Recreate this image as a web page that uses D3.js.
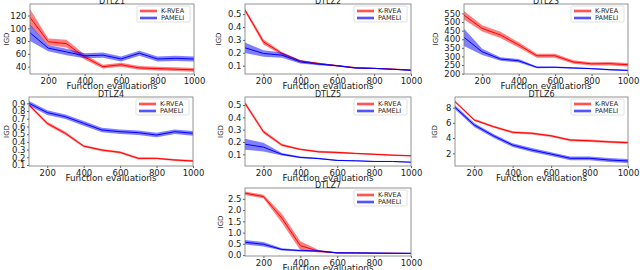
<!DOCTYPE html>
<html>
<head>
<meta charset="utf-8">
<script src="https://cdn.jsdelivr.net/npm/d3@7"></script>
<style>
  body { margin: 0; background: #fff; }
  text { font-family: "DejaVu Sans", sans-serif; fill: #222; }
</style>
</head>
<body>
<div id="chart"></div>
<script>
var problems = ['DTLZ1', 'DTLZ2', 'DTLZ3', 'DTLZ4', 'DTLZ5', 'DTLZ6', 'DTLZ7'];
var evals = [100, 200, 300, 400, 500, 600, 700, 800, 900, 1000];
var xTicks = [200, 400, 600, 800, 1000];

// mean IGD and half-width of the shaded band, one row per problem
var krveaMean = [
  [117, 79, 76, 55, 40, 43, 38, 37, 36, 35],
  [0.531, 0.285, 0.195, 0.136, 0.118, 0.1, 0.085, 0.079, 0.074, 0.066],
  [540, 463, 425, 367, 304, 304, 268, 257, 258, 252],
  [0.878, 0.64, 0.51, 0.345, 0.294, 0.264, 0.186, 0.186, 0.165, 0.152],
  [0.514, 0.283, 0.175, 0.14, 0.12, 0.115, 0.107, 0.1, 0.093, 0.088],
  [8.79, 6.38, 5.5, 4.76, 4.63, 4.3, 3.74, 3.65, 3.5, 3.4],
  [2.75, 2.6, 1.64, 0.42, 0.17, 0.1, 0.09, 0.08, 0.08, 0.07]
];
var krveaSpread = [
  [13, 5, 6, 4, 3, 3, 3, 3, 3, 3],
  [0.015, 0.02, 0.012, 0.008, 0.006, 0.005, 0.005, 0.004, 0.004, 0.004],
  [25, 18, 18, 15, 12, 12, 10, 10, 10, 10],
  [0.02, 0.02, 0.02, 0.015, 0.015, 0.015, 0.015, 0.012, 0.012, 0.012],
  [0.015, 0.015, 0.01, 0.008, 0.008, 0.008, 0.006, 0.006, 0.006, 0.006],
  [0.15, 0.15, 0.15, 0.15, 0.15, 0.15, 0.15, 0.15, 0.15, 0.15],
  [0.08, 0.08, 0.2, 0.2, 0.06, 0.03, 0.03, 0.02, 0.02, 0.02]
];
var pameliMean = [
  [93, 69, 63, 57, 58, 52, 61, 52, 53, 52],
  [0.239, 0.195, 0.182, 0.13, 0.112, 0.1, 0.082, 0.08, 0.072, 0.065],
  [411, 327, 285, 275, 237, 237, 233, 229, 223, 219],
  [0.9, 0.78, 0.726, 0.64, 0.554, 0.532, 0.519, 0.489, 0.532, 0.511],
  [0.182, 0.158, 0.1, 0.075, 0.065, 0.05, 0.047, 0.042, 0.042, 0.036],
  [8.05, 5.72, 4.3, 3.08, 2.43, 1.9, 1.34, 1.34, 1.12, 0.99],
  [0.57, 0.48, 0.25, 0.2, 0.18, 0.1, 0.1, 0.09, 0.08, 0.08]
];
var pameliSpread = [
  [13, 5, 5, 4, 4, 4, 4, 4, 4, 4],
  [0.04, 0.025, 0.02, 0.012, 0.008, 0.006, 0.005, 0.005, 0.004, 0.004],
  [50, 18, 10, 10, 5, 4, 4, 4, 4, 4],
  [0.03, 0.03, 0.03, 0.03, 0.03, 0.03, 0.03, 0.03, 0.03, 0.03],
  [0.045, 0.035, 0.01, 0.008, 0.006, 0.005, 0.004, 0.004, 0.004, 0.004],
  [0.25, 0.25, 0.25, 0.25, 0.25, 0.25, 0.25, 0.25, 0.25, 0.25],
  [0.1, 0.1, 0.05, 0.04, 0.03, 0.03, 0.02, 0.02, 0.02, 0.02]
];
var yDomains = [[28.5, 138], [0.036, 0.578], [198, 605], [0.087, 0.982], [0.005, 0.565], [0.33, 9.4], [-0.04, 2.98]];
var yTicks = [
  [40, 60, 80, 100, 120],
  [0.1, 0.2, 0.3, 0.4, 0.5],
  [200, 250, 300, 350, 400, 450, 500, 550],
  [0.1, 0.2, 0.3, 0.4, 0.5, 0.6, 0.7, 0.8, 0.9],
  [0.1, 0.2, 0.3, 0.4, 0.5],
  [2, 4, 6, 8],
  [0, 0.5, 1, 1.5, 2, 2.5]
];
var yFormats = ['d', '.1f', 'd', '.1f', '.1f', 'd', '.1f'];

// panel boxes [left, right, top, bottom, ylabel x]
var panels = [
  [30, 194, 4, 74, 6],
  [245, 411, 4, 74, 218],
  [464, 628, 4, 74, 435],
  [29, 193, 97, 166, 6],
  [245, 411, 97, 166, 220],
  [455, 628, 97, 166, 434],
  [245, 411, 188, 256, 220]
];

var W = 640, H = 270;
var svg = d3.select('#chart').append('svg')
  .attr('width', W).attr('height', H);

var series = [
  {name: 'K-RVEA', color: '#ff0000', mean: krveaMean, spread: krveaSpread},
  {name: 'PAMELI', color: '#0000ff', mean: pameliMean, spread: pameliSpread}
];

problems.forEach(function(p, k) {
  var b = panels[k];
  var x = d3.scaleLinear().domain([100, 1000]).range([b[0], b[1]]);
  var y = d3.scaleLinear().domain(yDomains[k]).range([b[3], b[2]]);
  var g = svg.append('g');

  g.append('clipPath').attr('id', 'clip' + k)
    .append('rect')
    .attr('x', b[0]).attr('y', b[2])
    .attr('width', b[1] - b[0]).attr('height', b[3] - b[2]);

  var plot = g.append('g').attr('clip-path', 'url(#clip' + k + ')');

  series.forEach(function(s) {
    var pts = evals.map(function(e, i) {
      return {x: e, m: s.mean[k][i], d: s.spread[k][i]};
    });
    plot.append('path')
      .datum(pts)
      .attr('d', d3.area()
        .x(function(d) { return x(d.x); })
        .y0(function(d) { return y(d.m - d.d); })
        .y1(function(d) { return y(d.m + d.d); }))
      .attr('fill', s.color)
      .attr('fill-opacity', 0.5);
    plot.append('path')
      .datum(pts)
      .attr('d', d3.line()
        .x(function(d) { return x(d.x); })
        .y(function(d) { return y(d.m); }))
      .attr('fill', 'none')
      .attr('stroke', s.color)
      .attr('stroke-width', 1);
  });

  // axes
  var xa = g.append('g')
    .attr('transform', 'translate(0,' + b[3] + ')')
    .call(d3.axisBottom(x).tickValues(xTicks).tickSize(2).tickPadding(1.5)
      .tickFormat(d3.format('d')));
  var ya = g.append('g')
    .attr('transform', 'translate(' + b[0] + ',0)')
    .call(d3.axisLeft(y).tickValues(yTicks[k]).tickSize(2).tickPadding(1.5)
      .tickFormat(d3.format(yFormats[k])));
  [xa, ya].forEach(function(a) {
    a.select('.domain').remove();
    a.selectAll('line').attr('stroke', '#333').attr('stroke-width', 0.8);
    a.selectAll('text').style('font-size', '8.5px').style('font-family', '"DejaVu Sans", sans-serif').attr('fill', '#222');
  });

  // frame
  g.append('rect')
    .attr('x', b[0]).attr('y', b[2])
    .attr('width', b[1] - b[0]).attr('height', b[3] - b[2])
    .attr('fill', 'none').attr('stroke', '#777').attr('stroke-width', 0.8);

  // title and labels
  g.append('text')
    .attr('x', (b[0] + b[1]) / 2).attr('y', b[2] - 0.5)
    .attr('text-anchor', 'middle')
    .style('font-size', '8px')
    .text(p);
  g.append('text')
    .attr('x', (b[0] + b[1]) / 2).attr('y', b[3] + 15)
    .attr('text-anchor', 'middle')
    .style('font-size', '8.8px')
    .text('Function evaluations');
  g.append('text')
    .attr('transform', 'translate(' + (b[4] + 2.5) + ',' + ((b[2] + b[3]) / 2) + ') rotate(-90)')
    .attr('text-anchor', 'middle')
    .style('font-size', '7px')
    .text('IGD');

  // legend
  var lx = b[1] - 57, ly = b[2] + 2;
  var lg = g.append('g').attr('transform', 'translate(' + lx + ',' + ly + ')');
  lg.append('rect')
    .attr('width', 53).attr('height', 16).attr('rx', 1.5)
    .attr('fill', '#fff').attr('fill-opacity', 0.85)
    .attr('stroke', '#ccc').attr('stroke-width', 0.6);
  series.forEach(function(s, i) {
    var yy = 5 + i * 7;
    lg.append('line')
      .attr('x1', 3).attr('x2', 20).attr('y1', yy).attr('y2', yy)
      .attr('stroke', s.color).attr('stroke-opacity', 0.45).attr('stroke-width', 3);
    lg.append('line')
      .attr('x1', 3).attr('x2', 20).attr('y1', yy).attr('y2', yy)
      .attr('stroke', s.color).attr('stroke-width', 0.8);
    lg.append('text')
      .attr('x', 24).attr('y', yy + 2.3)
      .style('font-size', '6.5px')
      .text(s.name);
  });
});
</script>
</body>
</html>
